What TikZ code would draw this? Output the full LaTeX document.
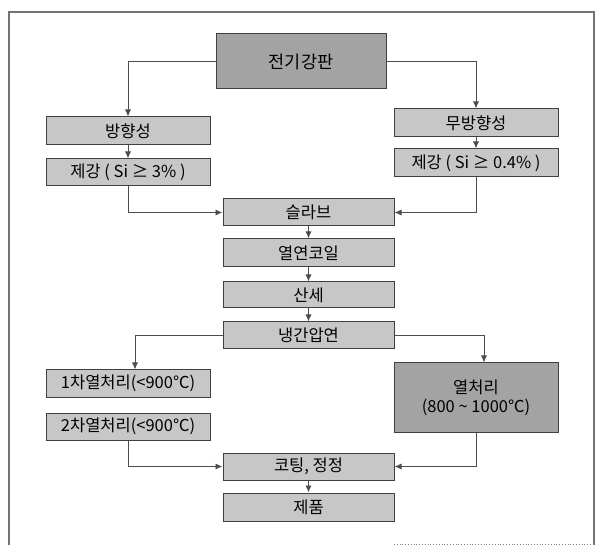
\documentclass[tikz,border=0pt]{standalone}
\usepackage{fontspec}
\newfontfamily\kr{Noto Sans CJK KR}
\usetikzlibrary{arrows.meta}
\tikzset{
  box/.style={draw=black!75, line width=1pt, fill=black!22, inner sep=0pt,
    font=\kr\fontsize{16.5}{19}\selectfont, align=center},
  dark/.style={fill=black!36},
  arr/.style={draw=black!70, line width=0.9pt, -{Latex[length=7pt,width=6pt]}},
  frame/.style={draw=black!55, line width=2.5pt}
}
\begin{document}
\begin{tikzpicture}[x=1pt,y=-1pt]
\useasboundingbox (0,0) rectangle (600,545);
% outer frame
\draw[frame] (9,545) -- (9,12) -- (594,12) -- (594,545);
\draw[black!50, line width=0.8pt, dotted] (394,544) -- (594,544);
% nodes
\node[box,dark,minimum width=170pt,minimum height=55pt,font=\kr\fontsize{17.5}{20}\selectfont] (top) at (301,61.5) {전기강판};
\node[box,minimum width=164pt,minimum height=28pt] (dir) at (128,131) {방향성};
\node[box,minimum width=164pt,minimum height=27pt] (sL) at (128,172.5) {제강 ( Si ≥ 3\% )};
\node[box,minimum width=164pt,minimum height=28pt] (nondir) at (476,123) {무방향성};
\node[box,minimum width=164pt,minimum height=28pt] (sR) at (476,163) {제강 ( Si ≥ 0.4\% )};
\node[box,minimum width=171pt,minimum height=27pt] (slab) at (308.5,212.5) {슬라브};
\node[box,minimum width=171pt,minimum height=28pt] (hot) at (308.5,253) {열연코일};
\node[box,minimum width=171pt,minimum height=26pt] (pickle) at (308.5,295) {산세};
\node[box,minimum width=171pt,minimum height=27pt] (cold) at (308.5,335.5) {냉간압연};
\node[box,minimum width=164pt,minimum height=27pt] (h1) at (128,383.5) {1차열처리(<900℃)};
\node[box,minimum width=164pt,minimum height=27pt] (h2) at (128,426.5) {2차열처리(<900℃)};
\node[box,dark,minimum width=164pt,minimum height=69pt] (heat) at (476,397.5) {열처리\\(800 \textasciitilde{} 1000℃)};
\node[box,minimum width=171pt,minimum height=27pt] (coat) at (308.5,466.5) {코팅, 정정};
\node[box,minimum width=171pt,minimum height=28pt] (prod) at (308.5,507) {제품};
% connectors
\draw[arr] (top.west) -| (dir.north);
\draw[arr] (top.east) -| (nondir.north);
\draw[arr] (dir.south) -- (sL.north);
\draw[arr] (nondir.south) -- (sR.north);
\draw[arr] (sL.south) |- (slab.west);
\draw[arr] (sR.south) |- (slab.east);
\draw[arr] (slab.south) -- (hot.north);
\draw[arr] (hot.south) -- (pickle.north);
\draw[arr] (pickle.south) -- (cold.north);
\draw[arr] (cold.west) -| ([xshift=7pt]h1.north);
\draw[arr] (cold.east) -| ([xshift=8pt]heat.north);
\draw[arr] (h2.south) |- (coat.west);
\draw[arr] (heat.south) |- (coat.east);
\draw[arr] (coat.south) -- (prod.north);
\end{tikzpicture}
\end{document}
